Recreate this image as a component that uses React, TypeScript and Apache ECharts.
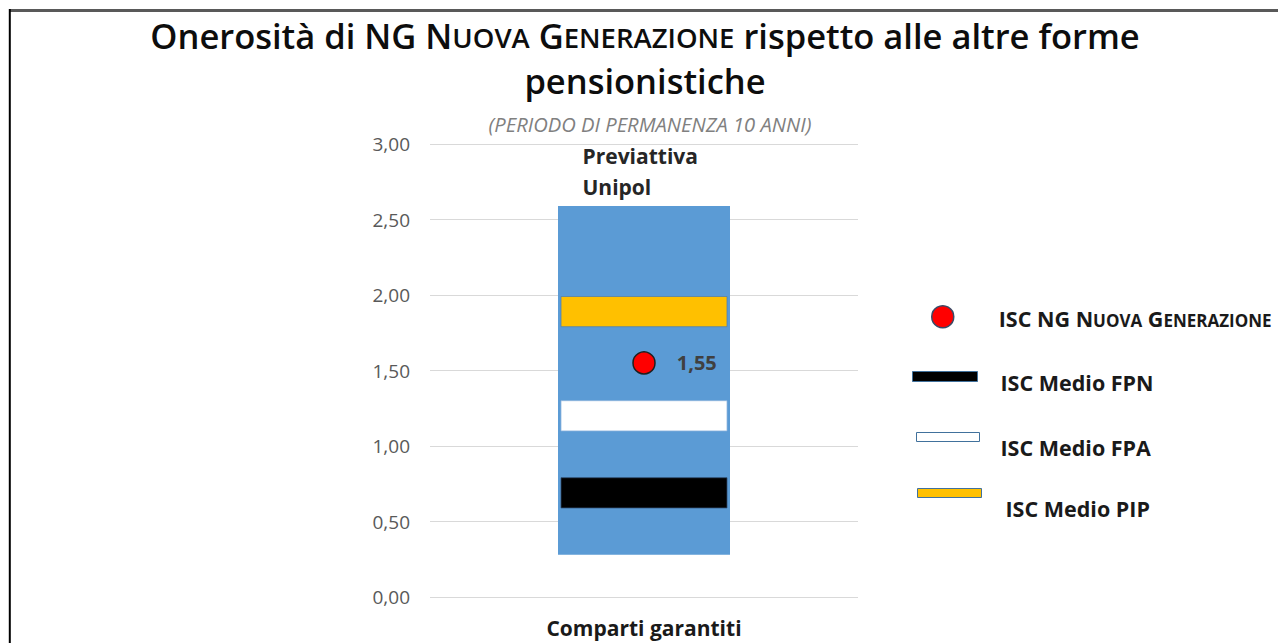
import React, { useEffect, useRef } from "react";
import * as echarts from "echarts";

// ---------- data ----------
const categories = ["Comparti garantiti"];
const rangeLabelLines = ["Previattiva", "Unipol"];
const previattivaRange = [[0.28, 2.59]];
const fpnRange = [[0.59, 0.79]];
const fpaRange = [[1.1, 1.3]];
const pipRange = [[1.79, 1.99]];
const ngValues = [1.55];
const yMin = 0;
const yMax = 3;
const yInterval = 0.5;

const titleWords = { pre: "Onerosità di NG", w1: "Nuova", w2: "Generazione", post: "rispetto alle altre forme", line2: "pensionistiche" };
const subtitleText = "(PERIODO DI PERMANENZA 10 ANNI)";
const nameNG = "ISC NG Nuova Generazione";
const nameFPN = "ISC Medio FPN";
const nameFPA = "ISC Medio FPA";
const namePIP = "ISC Medio PIP";

// ---------- helpers ----------
const FONT = "Open Sans";
const sc = (w: string) => `${w[0]}{s|${w.slice(1).toUpperCase()}}`;
const scT = (w: string) => `{t|${w[0]}}{s|${w.slice(1).toUpperCase()}}`;
const comma = (v: number) => v.toFixed(2).replace(".", ",");
const toRows = (r: number[][]) => r.map((p, i) => [i, p[0], p[1]]);

function rangeRender(widthPx: number, fill: string, stroke: string, lineWidth: number, labelLines?: string[]) {
  return (_params: any, api: any) => {
    const x = api.value(0);
    const lo = api.coord([x, api.value(1)]);
    const hi = api.coord([x, api.value(2)]);
    const left = lo[0] - widthPx / 2;
    const children: any[] = [
      {
        type: "rect",
        shape: { x: left, y: hi[1], width: widthPx, height: lo[1] - hi[1] },
        style: { fill, stroke, lineWidth },
      },
    ];
    if (labelLines) {
      children.push({
        type: "text",
        x: left + 24.5,
        y: hi[1] - 3,
        style: {
          text: labelLines.join("\n"),
          fontFamily: FONT,
          fontWeight: "bold",
          fontSize: 21,
          lineHeight: 31.5,
          fill: "#262626",
          align: "left",
          verticalAlign: "bottom",
        },
      });
    }
    return { type: "group", children };
  };
}

const legendFont = { fontFamily: FONT, fontWeight: "bold" as const, fontSize: 21.5, color: "#1a1a1a" };
const legendRich = (shift: number) => ({
  t: { ...legendFont, padding: [shift, 0, 0, 0] },
  s: { ...legendFont, fontSize: 17, padding: [shift + 3.5, 0, 0, 0] },
});

export default function App() {
  const ref = useRef<HTMLDivElement>(null);
  useEffect(() => {
    if (!ref.current) return;
    const chart = echarts.init(ref.current, null, { renderer: "svg" });
    const option: any = {
      animation: false,
      backgroundColor: "#ffffff",
      title: [
        {
          text: `${titleWords.pre} ${sc(titleWords.w1)} ${sc(titleWords.w2)} ${titleWords.post}\n${titleWords.line2}`,
          left: 645,
          top: 13,
          textAlign: "center",
          padding: 0,
          textStyle: {
            fontFamily: FONT,
            fontWeight: 600,
            fontSize: 34.5,
            lineHeight: 45,
            color: "#0d0d0d",
            align: "center",
            rich: {
              s: { fontFamily: FONT, fontWeight: 600, fontSize: 27.5, color: "#0d0d0d", padding: [4.5, 0, 0, 0] },
            },
          },
        },
        {
          text: subtitleText,
          left: 650,
          top: 114,
          textAlign: "center",
          padding: 0,
          textStyle: { fontFamily: FONT, fontStyle: "italic", fontWeight: "normal", fontSize: 20.2, color: "#808080" },
        },
      ],
      legend: [
        {
          data: [{ name: nameNG, icon: "circle", itemStyle: { color: "#ff0000", borderColor: "#3a4a66", borderWidth: 1.5 } }],
          left: 931, top: 305, itemWidth: 22, itemHeight: 22, padding: 0, selectedMode: false,
          formatter: () => `{t|ISC NG }${scT("Nuova")}{t| }${scT("Generazione")}`,
          textStyle: { ...legendFont, padding: [0, 0, 0, 40], rich: legendRich(3) },
        },
        {
          data: [{ name: nameFPN, icon: "rect", itemStyle: { color: "#000000", borderColor: "#41719c", borderWidth: 1 } }],
          left: 912, top: 371, itemWidth: 65, itemHeight: 10, padding: 0, selectedMode: false,
          formatter: (n: string) => `{t|${n}}`,
          textStyle: { ...legendFont, padding: [0, 0, 0, 18], rich: legendRich(11) },
        },
        {
          data: [{ name: nameFPA, icon: "rect", itemStyle: { color: "#ffffff", borderColor: "#41719c", borderWidth: 1 } }],
          left: 916, top: 432, itemWidth: 63, itemHeight: 9, padding: 0, selectedMode: false,
          formatter: (n: string) => `{t|${n}}`,
          textStyle: { ...legendFont, padding: [0, 0, 0, 16], rich: legendRich(21) },
        },
        {
          data: [{ name: namePIP, icon: "rect", itemStyle: { color: "#ffc000", borderColor: "#41719c", borderWidth: 1 } }],
          left: 917, top: 488, itemWidth: 64, itemHeight: 9, padding: 0, selectedMode: false,
          formatter: (n: string) => `{t|${n}}`,
          textStyle: { ...legendFont, padding: [0, 0, 0, 19], rich: legendRich(31) },
        },
      ],
      grid: { left: 430, right: 420, top: 144, bottom: 46, containLabel: false },
      xAxis: {
        type: "category",
        data: categories,
        axisLine: { show: false },
        axisTick: { show: false },
        axisLabel: { margin: 20, fontFamily: FONT, fontWeight: "bold", fontSize: 21, color: "#1a1a1a" },
      },
      yAxis: {
        type: "value",
        min: yMin,
        max: yMax,
        interval: yInterval,
        axisLine: { show: false },
        axisTick: { show: false },
        splitLine: { lineStyle: { color: "#d9d9d9", width: 1 } },
        axisLabel: { margin: 20, fontFamily: FONT, fontSize: 19, color: "#595959", formatter: (v: number) => comma(v) },
      },
      graphic: [
        { type: "line", shape: { x1: 9, y1: 10.5, x2: 1278, y2: 10.5 }, style: { stroke: "#595959", lineWidth: 3 } },
        { type: "line", shape: { x1: 9.8, y1: 9, x2: 9.8, y2: 643 }, style: { stroke: "#000000", lineWidth: 2 } },
      ],
      series: [
        {
          name: "Previattiva Unipol",
          type: "custom",
          data: toRows(previattivaRange),
          itemStyle: { color: "#5b9bd5" },
          renderItem: rangeRender(172, "#5b9bd5", "none", 0, rangeLabelLines),
          z: 1,
        },
        {
          name: nameFPN,
          type: "custom",
          data: toRows(fpnRange),
          itemStyle: { color: "#000000" },
          renderItem: rangeRender(166, "#000000", "#2e4a6b", 0.75),
          z: 2,
        },
        {
          name: nameFPA,
          type: "custom",
          data: toRows(fpaRange),
          itemStyle: { color: "#ffffff" },
          renderItem: rangeRender(166, "#ffffff", "#8fb4dd", 0.75),
          z: 2,
        },
        {
          name: namePIP,
          type: "custom",
          data: toRows(pipRange),
          itemStyle: { color: "#ffc000" },
          renderItem: rangeRender(166, "#ffc000", "#4f7fb0", 0.75),
          z: 2,
        },
        {
          name: nameNG,
          type: "scatter",
          data: ngValues.map((v, i) => [i, v]),
          symbol: "circle",
          symbolSize: 22,
          itemStyle: { color: "#ff0000", borderColor: "#1f1f1f", borderWidth: 1.5, opacity: 1 },
          label: {
            show: true,
            position: "right",
            distance: 21,
            formatter: (p: any) => comma(p.value[1]),
            fontFamily: FONT,
            fontWeight: "bold",
            fontSize: 20,
            color: "#404040",
            padding: [4, 0, 0, 0],
          },
          z: 3,
        },
      ],
    };
    chart.setOption(option);
    return () => chart.dispose();
  }, []);
  return <div ref={ref} style={{ position: "fixed", left: 0, top: 0, width: 1278, height: 643 }} />;
}
